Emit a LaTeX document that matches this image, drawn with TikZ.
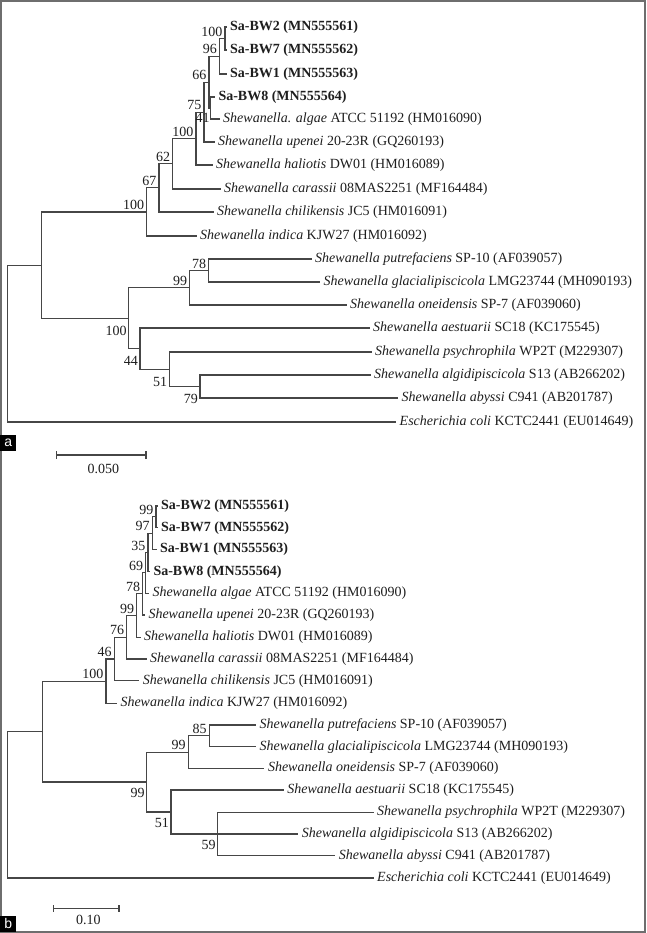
\documentclass[tikz,border=0pt]{standalone}
\usepackage{fontspec}
\setmainfont{Liberation Serif}
\newfontfamily\panelfont{Liberation Sans}
\usetikzlibrary{positioning}
\definecolor{treegray}{RGB}{70,70,70}
\definecolor{framegray}{RGB}{110,110,110}
\definecolor{inkblack}{RGB}{30,30,30}
\newcommand{\treefont}{\fontsize{14}{16}\selectfont}
\tikzset{
  leaf/.style={anchor=west, inner xsep=3.5pt, inner ysep=0pt, font=\treefont, text=inkblack},
  strain/.style={leaf, font=\treefont\bfseries},
  boot/.style={inner sep=0.5pt, font=\treefont, text=inkblack},
  branch/.style={draw=treegray, line width=1.1pt},
  panel/.style={fill=black, text=white, minimum size=16pt, inner sep=0pt, font=\panelfont\fontsize{14}{14}\selectfont},
}

\begin{document}
\begin{tikzpicture}[x=1pt, y=-1pt]
  \useasboundingbox (0,0) rectangle (646,933);
  \draw[framegray, line width=2pt] (1,1) rectangle (645,932);

  % tree a: taxa
  \node[strain] (aBW2) at (226.5,27) {Sa-BW2 (MN555561)};
  \node[strain] (aBW7) at (226.5,50) {Sa-BW7 (MN555562)};
  \node[strain] (aBW1) at (226.5,74) {Sa-BW1 (MN555563)};
  \node[strain] (aBW8) at (214.8,97) {Sa-BW8 (MN555564)};
  \node[leaf] (aAlg) at (219.5,119) {\textit{Shewanella. algae} ATCC 51192 (HM016090)};
  \node[leaf] (aUpe) at (214.5,142) {\textit{Shewanella upenei} 20-23R (GQ260193)};
  \node[leaf] (aHal) at (212.5,165) {\textit{Shewanella haliotis} DW01 (HM016089)};
  \node[leaf] (aCar) at (220.5,189) {\textit{Shewanella carassii} 08MAS2251 (MF164484)};
  \node[leaf] (aChi) at (213.5,212) {\textit{Shewanella chilikensis} JC5 (HM016091)};
  \node[leaf] (aInd) at (196.5,236) {\textit{Shewanella indica} KJW27 (HM016092)};
  \node[leaf] (aPut) at (311.5,259) {\textit{Shewanella putrefaciens} SP-10 (AF039057)};
  \node[leaf] (aGla) at (320,282) {\textit{Shewanella glacialipiscicola} LMG23744 (MH090193)};
  \node[leaf] (aOne) at (346.5,305) {\textit{Shewanella oneidensis} SP-7 (AF039060)};
  \node[leaf] (aAes) at (369.5,328) {\textit{Shewanella aestuarii} SC18 (KC175545)};
  \node[leaf] (aPsy) at (371.5,352) {\textit{Shewanella psychrophila} WP2T (M229307)};
  \node[leaf] (aAlgi) at (370.5,375) {\textit{Shewanella algidipiscicola} S13 (AB266202)};
  \node[leaf] (aAby) at (398,398) {\textit{Shewanella abyssi} C941 (AB201787)};
  \node[leaf] (aEco) at (396,422) {\textit{Escherichia coli} KCTC2441 (EU014649)};

  % tree a: internal nodes
  \coordinate (aN100a) at (225,38.5);
  \coordinate (aN96) at (219.5,56.25);
  \coordinate (aN41) at (210.5,108);
  \coordinate (aN66) at (209,82.1);
  \coordinate (aN75) at (204,112.1);
  \coordinate (aN100b) at (196,138.5);
  \coordinate (aN62) at (172.7,163.8);
  \coordinate (aN67) at (159,187.9);
  \coordinate (aN100c) at (146.7,212);
  \coordinate (aN78) at (208.7,270.5);
  \coordinate (aN99) at (189.7,287.75);
  \coordinate (aN79) at (200,386.5);
  \coordinate (aN51) at (169.3,369.25);
  \coordinate (aN44) at (140,348.6);
  \coordinate (aN100L) at (128.7,318.2);
  \coordinate (aNShe) at (41.7,265.1);
  \coordinate (aRoot) at (7.3,343.5);

  \draw[branch] (aN100a) |- (aBW2.west); \draw[branch] (aN100a) |- (aBW7.west);
  \draw[branch] (aN96) |- (aN100a); \draw[branch] (aN96) |- (aBW1.west);
  \draw[branch] (aN41) |- (aBW8.west); \draw[branch] (aN41) |- (aAlg.west);
  \draw[branch] (aN66) |- (aN96); \draw[branch] (aN66) |- (aN41);
  \draw[branch] (aN75) |- (aN66); \draw[branch] (aN75) |- (aUpe.west);
  \draw[branch] (aN100b) |- (aN75); \draw[branch] (aN100b) |- (aHal.west);
  \draw[branch] (aN62) |- (aN100b); \draw[branch] (aN62) |- (aCar.west);
  \draw[branch] (aN67) |- (aN62); \draw[branch] (aN67) |- (aChi.west);
  \draw[branch] (aN100c) |- (aN67); \draw[branch] (aN100c) |- (aInd.west);
  \draw[branch] (aN78) |- (aPut.west); \draw[branch] (aN78) |- (aGla.west);
  \draw[branch] (aN99) |- (aN78); \draw[branch] (aN99) |- (aOne.west);
  \draw[branch] (aN79) |- (aAlgi.west); \draw[branch] (aN79) |- (aAby.west);
  \draw[branch] (aN51) |- (aPsy.west); \draw[branch] (aN51) |- (aN79);
  \draw[branch] (aN44) |- (aAes.west); \draw[branch] (aN44) |- (aN51);
  \draw[branch] (aN100L) |- (aN99); \draw[branch] (aN100L) |- (aN44);
  \draw[branch] (aNShe) |- (aN100c); \draw[branch] (aNShe) |- (aN100L);
  \draw[branch] (aRoot) |- (aNShe); \draw[branch] (aRoot) |- (aEco.west);

  % tree a: bootstrap values
  \node[boot, above left=1.5pt and 2pt of aN100a] {100};
  \node[boot, above left=1.5pt and 2pt of aN96] {96};
  \node[boot, above left=1.5pt and 2pt of aN66] {66};
  \node[boot, below left=5pt and 0.3pt of aN41] {41};
  \node[boot, above left=1.5pt and 2pt of aN75] {75};
  \node[boot, above left=1.5pt and 2pt of aN100b] {100};
  \node[boot, above left=1.5pt and 2pt of aN62] {62};
  \node[boot, above left=1.5pt and 2pt of aN67] {67};
  \node[boot, above left=1.5pt and 2pt of aN100c] {100};
  \node[boot, above left=1.5pt and 2pt of aN78] {78};
  \node[boot, above left=1.5pt and 2pt of aN99] {99};
  \node[boot, below left=7pt and 1.5pt of aN100L] {100};
  \node[boot, below left=7pt and 1.5pt of aN44] {44};
  \node[boot, below left=7pt and 1.5pt of aN51] {51};
  \node[boot, below left=7pt and 1.5pt of aN79] {79};

  % tree a: scale bar and panel tag
  \coordinate (aBarL) at (56.7,455);
  \coordinate (aBarR) at (146,455);
  \draw[branch] (aBarL) -- (aBarR);
  \draw[branch] ([yshift=-4pt]aBarL) -- ([yshift=4pt]aBarL);
  \draw[branch] ([yshift=-4pt]aBarR) -- ([yshift=4pt]aBarR);
  \node[boot] (aBarLbl) at (103.3,469.3) {0.050};
  \node[panel, anchor=north west] (aTag) at (0,435) {a};

  % tree b: taxa
  \node[strain] (bBW2) at (157.5,506) {Sa-BW2 (MN555561)};
  \node[strain] (bBW7) at (157.5,527.7) {Sa-BW7 (MN555562)};
  \node[strain] (bBW1) at (156.5,549.3) {Sa-BW1 (MN555563)};
  \node[strain] (bBW8) at (149.8,571.7) {Sa-BW8 (MN555564)};
  \node[leaf] (bAlg) at (148.8,593.3) {\textit{Shewanella algae} ATCC 51192 (HM016090)};
  \node[leaf] (bUpe) at (144.8,615) {\textit{Shewanella upenei} 20-23R (GQ260193)};
  \node[leaf] (bHal) at (140.5,637.3) {\textit{Shewanella haliotis} DW01 (HM016089)};
  \node[leaf] (bCar) at (146.5,659) {\textit{Shewanella carassii} 08MAS2251 (MF164484)};
  \node[leaf] (bChi) at (139.2,680.7) {\textit{Shewanella chilikensis} JC5 (HM016091)};
  \node[leaf] (bInd) at (116.8,703.3) {\textit{Shewanella indica} KJW27 (HM016092)};
  \node[leaf] (bPut) at (256,725) {\textit{Shewanella putrefaciens} SP-10 (AF039057)};
  \node[leaf] (bGla) at (256,746.7) {\textit{Shewanella glacialipiscicola} LMG23744 (MH090193)};
  \node[leaf] (bOne) at (264.3,768.3) {\textit{Shewanella oneidensis} SP-7 (AF039060)};
  \node[leaf] (bAes) at (283.7,790) {\textit{Shewanella aestuarii} SC18 (KC175545)};
  \node[leaf] (bPsy) at (373.5,812.3) {\textit{Shewanella psychrophila} WP2T (M229307)};
  \node[leaf] (bAlgi) at (298.1,834) {\textit{Shewanella algidipiscicola} S13 (AB266202)};
  \node[leaf] (bAby) at (335.2,855.7) {\textit{Shewanella abyssi} C941 (AB201787)};
  \node[leaf] (bEco) at (373.5,878) {\textit{Escherichia coli} KCTC2441 (EU014649)};

  % tree b: internal nodes
  \coordinate (bN99a) at (156,516.85);
  \coordinate (bN97) at (152.3,533.1);
  \coordinate (bN35) at (148,552.4);
  \coordinate (bN69) at (145.7,572.85);
  \coordinate (bN78) at (142.7,593.9);
  \coordinate (bN99b) at (136.7,615.6);
  \coordinate (bN76) at (126.7,637.3);
  \coordinate (bN46) at (114.3,659);
  \coordinate (bN100) at (106,681.2);
  \coordinate (bN85) at (209.3,735.85);
  \coordinate (bN99U) at (188.3,752.1);
  \coordinate (bN59) at (217.7,834);
  \coordinate (bN51) at (171,812);
  \coordinate (bN99L) at (146.7,782);
  \coordinate (bNShe) at (42.3,731.6);
  \coordinate (bRoot) at (7.3,804.8);

  \draw[branch] (bN99a) |- (bBW2.west); \draw[branch] (bN99a) |- (bBW7.west);
  \draw[branch] (bN97) |- (bN99a); \draw[branch] (bN97) |- (bBW1.west);
  \draw[branch] (bN35) |- (bN97); \draw[branch] (bN35) |- (bBW8.west);
  \draw[branch] (bN69) |- (bN35); \draw[branch] (bN69) |- (bAlg.west);
  \draw[branch] (bN78) |- (bN69); \draw[branch] (bN78) |- (bUpe.west);
  \draw[branch] (bN99b) |- (bN78); \draw[branch] (bN99b) |- (bHal.west);
  \draw[branch] (bN76) |- (bN99b); \draw[branch] (bN76) |- (bCar.west);
  \draw[branch] (bN46) |- (bN76); \draw[branch] (bN46) |- (bChi.west);
  \draw[branch] (bN100) |- (bN46); \draw[branch] (bN100) |- (bInd.west);
  \draw[branch] (bN85) |- (bPut.west); \draw[branch] (bN85) |- (bGla.west);
  \draw[branch] (bN99U) |- (bN85); \draw[branch] (bN99U) |- (bOne.west);
  \draw[branch] (bN59) |- (bPsy.west); \draw[branch] (bN59) -- (bAlgi.west); \draw[branch] (bN59) |- (bAby.west);
  \draw[branch] (bN51) |- (bAes.west); \draw[branch] (bN51) |- (bN59);
  \draw[branch] (bN99L) |- (bN99U); \draw[branch] (bN99L) |- (bN51);
  \draw[branch] (bNShe) |- (bN100); \draw[branch] (bNShe) |- (bN99L);
  \draw[branch] (bRoot) |- (bNShe); \draw[branch] (bRoot) |- (bEco.west);

  % tree b: bootstrap values
  \node[boot, above left=1.5pt and 2pt of bN99a] {99};
  \node[boot, above left=1.5pt and 2pt of bN97] {97};
  \node[boot, above left=1.5pt and 2pt of bN35] {35};
  \node[boot, above left=1.5pt and 2pt of bN69] {69};
  \node[boot, above left=1.5pt and 2pt of bN78] {78};
  \node[boot, above left=1.5pt and 2pt of bN99b] {99};
  \node[boot, above left=1.5pt and 2pt of bN76] {76};
  \node[boot, above left=1.5pt and 2pt of bN46] {46};
  \node[boot, above left=1.5pt and 2pt of bN100] {100};
  \node[boot, above left=1.5pt and 2pt of bN85] {85};
  \node[boot, above left=1.5pt and 2pt of bN99U] {99};
  \node[boot, below left=6pt and 1.5pt of bN99L] {99};
  \node[boot, below left=6pt and 1.5pt of bN51] {51};
  \node[boot, below left=6pt and 1.5pt of bN59] {59};

  % tree b: scale bar and panel tag
  \coordinate (bBarL) at (53.3,908.3);
  \coordinate (bBarR) at (119,908.3);
  \draw[branch] (bBarL) -- (bBarR);
  \draw[branch] ([yshift=-3.5pt]bBarL) -- ([yshift=3.5pt]bBarL);
  \draw[branch] ([yshift=-3.5pt]bBarR) -- ([yshift=3.5pt]bBarR);
  \node[boot] (bBarLbl) at (88.3,920) {0.10};
  \node[panel, anchor=south west] (bTag) at (0,932) {b};
\end{tikzpicture}
\end{document}
